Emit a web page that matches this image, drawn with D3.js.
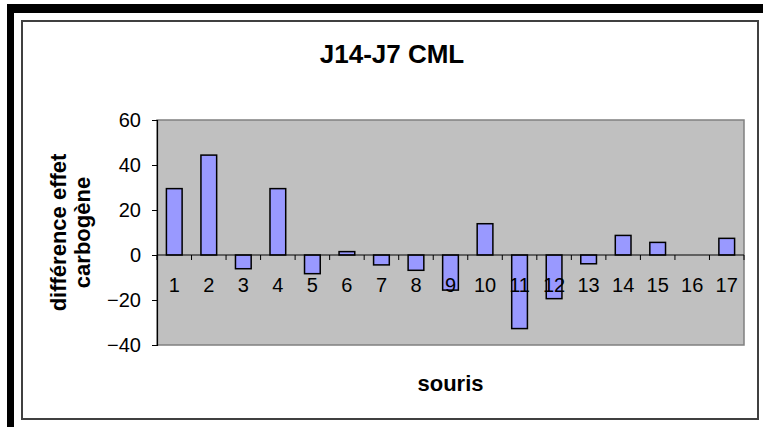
<!DOCTYPE html>
<html>
<head>
<meta charset="utf-8">
<script src="https://cdn.jsdelivr.net/npm/d3@7"></script>
<style>
  html, body { margin: 0; padding: 0; background: #fff; }
  svg { display: block; font-family: Arial, "Liberation Sans", sans-serif; }
</style>
</head>
<body>
<svg id="chart" width="763" height="427"></svg>
<script>
// Mouse numbers and the J14 - J7 difference of the carbogen effect
const categories = ["1","2","3","4","5","6","7","8","9","10","11","12","13","14","15","16","17"];
const values = [29.5, 44.4, -6.1, 29.5, -8.3, 1.5, -4.4, -6.8, -15.6, 13.9, -32.7, -19.4, -3.9, 8.7, 5.6, 0, 7.4];
const yTicks = [-40, -20, 0, 20, 40, 60];
const title = "J14-J7 CML";
const xTitle = "souris";
const yTitleLines = ["différence effet", "carbogène"];

const svg = d3.select("#chart");

// heavy black frame on top and left, thin dark frame around the chart
svg.append("rect").attr("x", 7).attr("y", 4).attr("width", 756).attr("height", 9).attr("fill", "#000");
svg.append("rect").attr("x", 7).attr("y", 4).attr("width", 7).attr("height", 423).attr("fill", "#000");
svg.append("rect").attr("x", 22).attr("y", 21).attr("width", 736).attr("height", 398)
  .attr("fill", "#fff").attr("stroke", "#404040").attr("stroke-width", 2);

const plot = { left: 157, top: 120, right: 744, bottom: 345 };

const x = d3.scaleBand().domain(categories).range([plot.left, plot.right]).paddingInner(0.545).paddingOuter(0.2725);
const xBand = d3.scaleBand().domain(categories).range([plot.left, plot.right]);
const y = d3.scaleLinear().domain([-40, 60]).range([plot.bottom, plot.top]);

// plot area
svg.append("rect")
  .attr("x", plot.left).attr("y", plot.top)
  .attr("width", plot.right - plot.left).attr("height", plot.bottom - plot.top)
  .attr("fill", "#C0C0C0").attr("stroke", "#808080").attr("stroke-width", 1.5);

// bars
svg.append("g").selectAll("rect").data(values).join("rect")
  .attr("x", (d, i) => x(categories[i]))
  .attr("width", x.bandwidth())
  .attr("y", d => y(Math.max(0, d)))
  .attr("height", d => Math.abs(y(d) - y(0)))
  .attr("fill", "#9999FF")
  .attr("stroke", "#000")
  .attr("stroke-width", 1.5)
  .attr("display", d => d === 0 ? "none" : null);

// y axis
const yAxis = d3.axisLeft(y).tickValues(yTicks).tickSize(5).tickPadding(11).tickFormat(d3.format("d"));
const gy = svg.append("g").attr("transform", `translate(${plot.left},0)`).call(yAxis);
gy.select(".domain").attr("stroke", "#000").attr("stroke-width", 1.2);
gy.selectAll(".tick line").attr("stroke", "#000");
gy.selectAll(".tick text").attr("font-size", 20).attr("fill", "#000")
  .attr("font-family", "Arial, 'Liberation Sans', sans-serif");

// category axis crossing at zero, ticks between categories
const gx = svg.append("g").attr("transform", `translate(0,${y(0)})`);
gx.append("line").attr("x1", plot.left).attr("x2", plot.right)
  .attr("stroke", "#000").attr("stroke-width", 1.2);
const bounds = categories.map(c => xBand(c)).concat([plot.right]);
gx.selectAll("line.tk").data(bounds).join("line").attr("class", "tk")
  .attr("x1", d => d).attr("x2", d => d).attr("y1", 0).attr("y2", 5)
  .attr("stroke", "#000").attr("stroke-width", 1);
gx.selectAll("text").data(categories).join("text")
  .attr("x", d => xBand(d) + xBand.bandwidth() / 2)
  .attr("y", 37)
  .attr("text-anchor", "middle")
  .attr("font-size", 20)
  .attr("fill", "#000")
  .text(d => d);

// titles
svg.append("text").attr("x", 392).attr("y", 63).attr("text-anchor", "middle")
  .attr("font-size", 26).attr("font-weight", "bold").text(title);
svg.append("text").attr("x", (plot.left + plot.right) / 2).attr("y", 391).attr("text-anchor", "middle")
  .attr("font-size", 22).attr("font-weight", "bold").text(xTitle);
const yt = svg.append("text")
  .attr("transform", `translate(66,${(plot.top + plot.bottom) / 2}) rotate(-90)`)
  .attr("text-anchor", "middle").attr("font-size", 22).attr("font-weight", "bold");
yTitleLines.forEach((t, i) => yt.append("tspan").attr("x", 0).attr("dy", i === 0 ? 0 : 24).text(t));
</script>
</body>
</html>
